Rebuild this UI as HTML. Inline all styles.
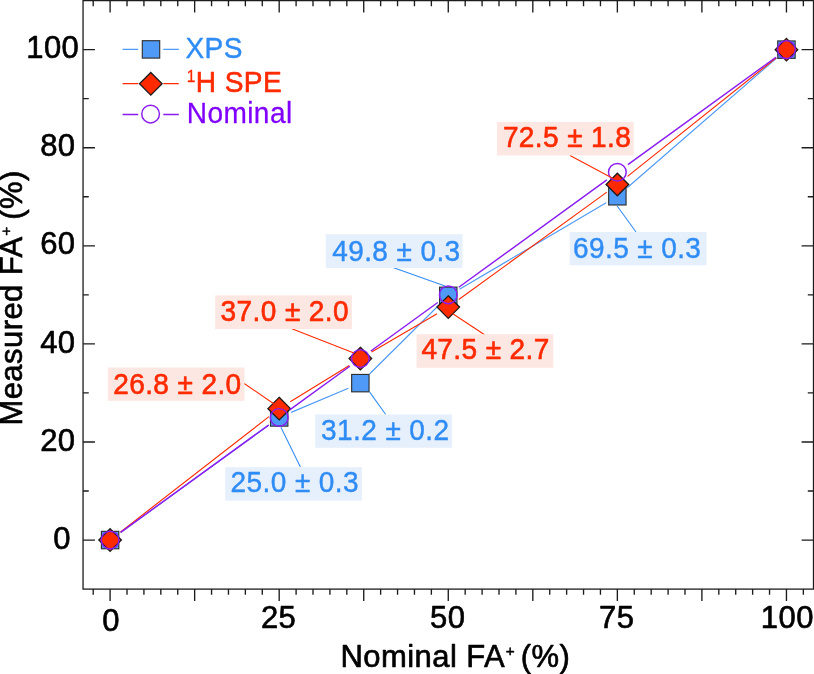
<!DOCTYPE html><html><head><meta charset="utf-8"><title>FA+ chart</title>
<style>html,body{margin:0;padding:0;background:#fff}svg{display:block}text{font-family:"Liberation Sans",sans-serif}</style></head><body>
<svg width="814" height="674" viewBox="0 0 814 674">
<rect x="0" y="0" width="814" height="674" fill="#fff"/>
<path d="M93.20 589.10v5.7 M93.20 0.60v5.7 M110.10 589.10v11.9 M110.10 0.60v11.9 M127.01 589.10v5.7 M127.01 0.60v5.7 M143.92 589.10v5.7 M143.92 0.60v5.7 M160.83 589.10v5.7 M160.83 0.60v5.7 M177.74 589.10v5.7 M177.74 0.60v5.7 M194.65 589.10v11.9 M194.65 0.60v11.9 M211.56 589.10v5.7 M211.56 0.60v5.7 M228.46 589.10v5.7 M228.46 0.60v5.7 M245.37 589.10v5.7 M245.37 0.60v5.7 M262.28 589.10v5.7 M262.28 0.60v5.7 M279.19 589.10v11.9 M279.19 0.60v11.9 M296.10 589.10v5.7 M296.10 0.60v5.7 M313.01 589.10v5.7 M313.01 0.60v5.7 M329.92 589.10v5.7 M329.92 0.60v5.7 M346.82 589.10v5.7 M346.82 0.60v5.7 M363.73 589.10v11.9 M363.73 0.60v11.9 M380.64 589.10v5.7 M380.64 0.60v5.7 M397.55 589.10v5.7 M397.55 0.60v5.7 M414.46 589.10v5.7 M414.46 0.60v5.7 M431.37 589.10v5.7 M431.37 0.60v5.7 M448.27 589.10v11.9 M448.27 0.60v11.9 M465.18 589.10v5.7 M465.18 0.60v5.7 M482.09 589.10v5.7 M482.09 0.60v5.7 M499.00 589.10v5.7 M499.00 0.60v5.7 M515.91 589.10v5.7 M515.91 0.60v5.7 M532.82 589.10v11.9 M532.82 0.60v11.9 M549.73 589.10v5.7 M549.73 0.60v5.7 M566.63 589.10v5.7 M566.63 0.60v5.7 M583.54 589.10v5.7 M583.54 0.60v5.7 M600.45 589.10v5.7 M600.45 0.60v5.7 M617.36 589.10v11.9 M617.36 0.60v11.9 M634.27 589.10v5.7 M634.27 0.60v5.7 M651.18 589.10v5.7 M651.18 0.60v5.7 M668.09 589.10v5.7 M668.09 0.60v5.7 M684.99 589.10v5.7 M684.99 0.60v5.7 M701.90 589.10v11.9 M701.90 0.60v11.9 M718.81 589.10v5.7 M718.81 0.60v5.7 M735.72 589.10v5.7 M735.72 0.60v5.7 M752.63 589.10v5.7 M752.63 0.60v5.7 M769.54 589.10v5.7 M769.54 0.60v5.7 M786.45 589.10v11.9 M786.45 0.60v11.9 M803.35 589.10v5.7 M803.35 0.60v5.7 M83.05 540.06h11.9 M813.50 540.06h-11.9 M83.05 491.02h5.7 M813.50 491.02h-5.7 M83.05 441.98h11.9 M813.50 441.98h-11.9 M83.05 392.93h5.7 M813.50 392.93h-5.7 M83.05 343.89h11.9 M813.50 343.89h-11.9 M83.05 294.85h5.7 M813.50 294.85h-5.7 M83.05 245.81h11.9 M813.50 245.81h-11.9 M83.05 196.77h5.7 M813.50 196.77h-5.7 M83.05 147.73h11.9 M813.50 147.73h-11.9 M83.05 98.68h5.7 M813.50 98.68h-5.7 M83.05 49.64h11.9 M813.50 49.64h-11.9" stroke="#1c1c1c" stroke-width="1.35" fill="none"/>
<rect x="83.05" y="0.6" width="730.45" height="588.5" fill="none" stroke="#1c1c1c" stroke-width="1.3"/>
<text x="111.1" y="630.6" font-size="31.00" letter-spacing="0.44" text-anchor="middle" fill="#000" stroke="#000" stroke-width="0.65" stroke-linejoin="round">0</text>
<text x="278.6" y="628.0" font-size="31.00" letter-spacing="0.44" text-anchor="middle" fill="#000" stroke="#000" stroke-width="0.65" stroke-linejoin="round">25</text>
<text x="447.7" y="628.0" font-size="31.00" letter-spacing="0.44" text-anchor="middle" fill="#000" stroke="#000" stroke-width="0.65" stroke-linejoin="round">50</text>
<text x="616.8" y="628.0" font-size="31.00" letter-spacing="0.44" text-anchor="middle" fill="#000" stroke="#000" stroke-width="0.65" stroke-linejoin="round">75</text>
<text x="787.3" y="628.0" font-size="31.00" letter-spacing="0.44" text-anchor="middle" fill="#000" stroke="#000" stroke-width="0.65" stroke-linejoin="round">100</text>
<text x="71.0" y="548.7" font-size="31.00" letter-spacing="0.44" text-anchor="end" fill="#000" stroke="#000" stroke-width="0.65" stroke-linejoin="round">0</text>
<text x="75.5" y="450.6" font-size="31.00" letter-spacing="0.44" text-anchor="end" fill="#000" stroke="#000" stroke-width="0.65" stroke-linejoin="round">20</text>
<text x="75.5" y="352.5" font-size="31.00" letter-spacing="0.44" text-anchor="end" fill="#000" stroke="#000" stroke-width="0.65" stroke-linejoin="round">40</text>
<text x="75.5" y="254.4" font-size="31.00" letter-spacing="0.44" text-anchor="end" fill="#000" stroke="#000" stroke-width="0.65" stroke-linejoin="round">60</text>
<text x="75.5" y="156.3" font-size="31.00" letter-spacing="0.44" text-anchor="end" fill="#000" stroke="#000" stroke-width="0.65" stroke-linejoin="round">80</text>
<text x="79.3" y="58.2" font-size="31.00" letter-spacing="0.44" text-anchor="end" fill="#000" stroke="#000" stroke-width="0.65" stroke-linejoin="round">100</text>
<text x="340.5" y="666.9" font-size="31.00" letter-spacing="0.44" fill="#000" stroke="#000" stroke-width="0.65" stroke-linejoin="round">Nominal FA<tspan font-size="15.3" dy="-11" dx="0.7" stroke-width="0.5">+</tspan><tspan dy="11" dx="-3.6" stroke-width="0.65"> (%)</tspan></text>
<text transform="translate(22.4,425.6) rotate(-90)" font-size="31.00" letter-spacing="0.44" fill="#000" stroke="#000" stroke-width="0.65" stroke-linejoin="round">Measured FA<tspan font-size="15.3" dy="-11" dx="0.7" stroke-width="0.5">+</tspan><tspan dy="11" dx="-2.6" stroke-width="0.65"> (%)</tspan></text>
<path d="M120.63 532.43L268.66 425.09 M291.16 412.39L348.38 388.19 M369.58 373.97L439.05 304.99 M459.48 289.24L606.16 202.87 M627.18 187.76L776.63 58.16" stroke="#4e9af6" stroke-width="1.15" fill="none"/>
<rect x="101.40" y="531.36" width="17.4" height="17.4" fill="#4e9af6" stroke="#303030" stroke-width="1.15"/>
<rect x="270.49" y="408.75" width="17.4" height="17.4" fill="#4e9af6" stroke="#303030" stroke-width="1.15"/>
<rect x="351.65" y="374.43" width="17.4" height="17.4" fill="#4e9af6" stroke="#303030" stroke-width="1.15"/>
<rect x="439.57" y="287.13" width="17.4" height="17.4" fill="#4e9af6" stroke="#303030" stroke-width="1.15"/>
<rect x="608.66" y="187.58" width="17.4" height="17.4" fill="#4e9af6" stroke="#303030" stroke-width="1.15"/>
<rect x="777.75" y="40.94" width="17.4" height="17.4" fill="#4e9af6" stroke="#303030" stroke-width="1.15"/>
<path d="M120.37 532.08L268.93 416.60 M290.26 401.81L349.28 365.43 M371.57 352.03L437.06 313.68 M458.80 299.48L606.84 192.14 M627.52 176.40L776.28 57.75" stroke="#ff2a00" stroke-width="1.15" fill="none"/>
<path d="M110.10 528.76L121.40 540.06L110.10 551.36L98.80 540.06Z" fill="#ff2a00" stroke="#1a1a1a" stroke-width="1.3" stroke-linejoin="miter"/>
<path d="M279.19 397.33L290.49 408.63L279.19 419.93L267.89 408.63Z" fill="#ff2a00" stroke="#1a1a1a" stroke-width="1.3" stroke-linejoin="miter"/>
<path d="M360.35 347.30L371.65 358.60L360.35 369.90L349.05 358.60Z" fill="#ff2a00" stroke="#1a1a1a" stroke-width="1.3" stroke-linejoin="miter"/>
<path d="M448.27 295.81L459.57 307.11L448.27 318.41L436.97 307.11Z" fill="#ff2a00" stroke="#1a1a1a" stroke-width="1.3" stroke-linejoin="miter"/>
<path d="M617.36 173.21L628.66 184.51L617.36 195.81L606.06 184.51Z" fill="#ff2a00" stroke="#1a1a1a" stroke-width="1.3" stroke-linejoin="miter"/>
<path d="M786.45 38.34L797.75 49.64L786.45 60.94L775.15 49.64Z" fill="#ff2a00" stroke="#1a1a1a" stroke-width="1.3" stroke-linejoin="miter"/>
<path d="M120.63 532.43L268.66 425.09 M289.71 409.82L349.83 366.24 M370.87 350.97L437.75 302.48 M458.80 287.22L606.84 179.88 M627.89 164.61L775.92 57.27" stroke="#8a1cf0" stroke-width="1.45" fill="none"/>
<circle cx="110.10" cy="540.06" r="8.85" fill="none" stroke="#8a1cf0" stroke-width="1.45"/>
<circle cx="279.19" cy="417.45" r="8.85" fill="none" stroke="#8a1cf0" stroke-width="1.45"/>
<circle cx="360.35" cy="358.60" r="8.85" fill="none" stroke="#8a1cf0" stroke-width="1.45"/>
<circle cx="448.27" cy="294.85" r="8.85" fill="none" stroke="#8a1cf0" stroke-width="1.45"/>
<circle cx="617.36" cy="172.25" r="8.85" fill="none" stroke="#8a1cf0" stroke-width="1.45"/>
<circle cx="786.45" cy="49.64" r="8.85" fill="none" stroke="#8a1cf0" stroke-width="1.45"/>
<line x1="393" y1="267.6" x2="445" y2="286" stroke="#2f8cf5" stroke-width="1.05"/>
<line x1="452.8" y1="313.7" x2="485" y2="335" stroke="#ff2a00" stroke-width="1.05"/>
<line x1="291.9" y1="328.8" x2="353.9" y2="352.9" stroke="#ff2a00" stroke-width="1.05"/>
<line x1="243.8" y1="383.2" x2="273.7" y2="403.8" stroke="#ff2a00" stroke-width="1.05"/>
<line x1="280.9" y1="427.3" x2="300.4" y2="466.9" stroke="#2f8cf5" stroke-width="1.05"/>
<line x1="369.7" y1="392.1" x2="385.7" y2="414.5" stroke="#2f8cf5" stroke-width="1.05"/>
<line x1="570" y1="155.5" x2="614" y2="179" stroke="#ff2a00" stroke-width="1.05"/>
<line x1="617" y1="205.8" x2="636" y2="232" stroke="#2f8cf5" stroke-width="1.05"/>
<rect x="325.8" y="234.2" width="136.7" height="33.8" fill="#e6effc"/>
<text transform="translate(332.2,260.8) scale(1,1.025)" font-size="28.03" letter-spacing="0.39" fill="#2f8cf5" xml:space="preserve" stroke="#2f8cf5" stroke-width="0.4" stroke-linejoin="round">49.8 ± 0.3</text>
<rect x="416.6" y="334.2" width="136.7" height="33.6" fill="#fce7e2"/>
<text transform="translate(421.4,359.1) scale(1,1.025)" font-size="28.03" letter-spacing="0.39" fill="#ff2a00" xml:space="preserve" stroke="#ff2a00" stroke-width="0.6" stroke-linejoin="round">47.5 ± 2.7</text>
<rect x="215.2" y="295.4" width="136.7" height="33.6" fill="#fce7e2"/>
<text transform="translate(220.6,321.3) scale(1,1.025)" font-size="28.03" letter-spacing="0.39" fill="#ff2a00" xml:space="preserve" stroke="#ff2a00" stroke-width="0.6" stroke-linejoin="round">37.0 ± 2.0</text>
<rect x="107.8" y="367.5" width="136.7" height="33.3" fill="#fce7e2"/>
<text transform="translate(113.2,393.8) scale(1,1.025)" font-size="28.03" letter-spacing="0.39" fill="#ff2a00" xml:space="preserve" stroke="#ff2a00" stroke-width="0.6" stroke-linejoin="round">26.8 ± 2.0</text>
<rect x="225.2" y="467.2" width="136.7" height="33.4" fill="#e6effc"/>
<text transform="translate(230.6,492.1) scale(1,1.025)" font-size="28.03" letter-spacing="0.39" fill="#2f8cf5" xml:space="preserve" stroke="#2f8cf5" stroke-width="0.4" stroke-linejoin="round">25.0 ± 0.3</text>
<rect x="315.2" y="414.5" width="136.7" height="33.3" fill="#e6effc"/>
<text transform="translate(321.1,439.9) scale(1,1.025)" font-size="28.03" letter-spacing="0.39" fill="#2f8cf5" xml:space="preserve" stroke="#2f8cf5" stroke-width="0.4" stroke-linejoin="round">31.2 ± 0.2</text>
<rect x="497.0" y="122.0" width="136.7" height="33.4" fill="#fce7e2"/>
<text transform="translate(502.9,146.9) scale(1,1.025)" font-size="28.03" letter-spacing="0.39" fill="#ff2a00" xml:space="preserve" stroke="#ff2a00" stroke-width="0.6" stroke-linejoin="round">72.5 ± 1.8</text>
<rect x="569.8" y="232.0" width="136.7" height="33.3" fill="#e6effc"/>
<text transform="translate(573.0,257.5) scale(1,1.025)" font-size="28.03" letter-spacing="0.39" fill="#2f8cf5" xml:space="preserve" stroke="#2f8cf5" stroke-width="0.4" stroke-linejoin="round">69.5 ± 0.3</text>
<path d="M122.6 49.4H138.2M163.3 49.4H178.8" stroke="#4e9af6" stroke-width="1.2"/>
<rect x="142.30" y="40.70" width="17.4" height="17.4" fill="#4e9af6" stroke="#303030" stroke-width="1.15"/>
<path d="M122.6 83.6H138.2M163.3 83.6H178.8" stroke="#ff2a00" stroke-width="1.2"/>
<path d="M150.80 72.50L162.10 83.80L150.80 95.10L139.50 83.80Z" fill="#ff2a00" stroke="#1a1a1a" stroke-width="1.3" stroke-linejoin="miter"/>
<path d="M122.6 114.5H138.2M163.3 114.5H178.8" stroke="#8a1cf0" stroke-width="1.4"/>
<circle cx="150.60" cy="114.10" r="8.85" fill="#fff" stroke="#8a1cf0" stroke-width="1.45"/>
<text transform="translate(185.5,57.6) scale(1,1.03)" font-size="28.08" letter-spacing="0.39" fill="#2f8cf5" stroke="#2f8cf5" stroke-width="0.4" stroke-linejoin="round">XPS</text>
<text transform="translate(186.8,92) scale(1,1.03)" font-size="28.08" letter-spacing="0.39" fill="#ff2a00" stroke="#ff2a00" stroke-width="0.6" stroke-linejoin="round"><tspan font-size="15.5" dy="-9.8" stroke-width="0.3">1</tspan><tspan dy="9.8" stroke-width="0.6">H SPE</tspan></text>
<text transform="translate(186.8,122.8) scale(1,1.03)" font-size="28.08" letter-spacing="0.39" fill="#8000ff" stroke="#8000ff" stroke-width="0.25" stroke-linejoin="round">Nominal</text>
</svg></body></html>
